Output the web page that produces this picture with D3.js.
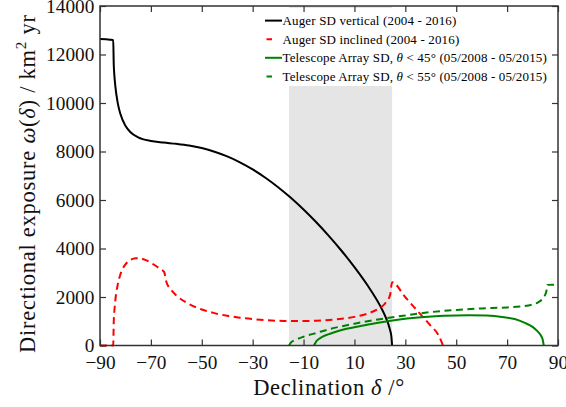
<!DOCTYPE html>
<html>
<head>
<meta charset="utf-8">
<script src="https://cdn.jsdelivr.net/npm/d3@7"></script>
<style>
  body { margin: 0; background: #fff; }
  svg { font-family: "Liberation Serif", serif; }
</style>
</head>
<body>
<script>
// Auger SD vertical (theta < 60)
const vertDec = [-90, -86, -84.8, -84.6, -84.4, -84, -83, -82, -80, -78, -75, -70, -65, -60, -55, -50, -45, -40, -35, -30, -25, -20, -15, -10, -5, 0, 5, 10, 15, 20, 22, 24, 24.5, 24.8];
const vertExp = [12640, 12609, 12588, 11601, 11212, 10716, 9987, 9556, 9064, 8795, 8583, 8433, 8369, 8317, 8248, 8141, 7992, 7798, 7555, 7261, 6919, 6528, 6091, 5608, 5081, 4511, 3897, 3233, 2503, 1656, 1232, 637, 388, 0];

// Auger SD inclined
const inclDec = [-90, -84.8, -84.6, -84.4, -84, -83, -82, -80, -78, -76, -74, -72, -70, -68, -66, -64.8, -64, -62, -60, -55, -50, -45, -40, -35, -30, -25, -20, -15, -10, -5, 0, 5, 10, 15, 20, 22, 24, 24.8, 30, 35, 40, 43, 44.8];
const inclExp = [0, 0, 971, 1352, 1835, 2529, 2927, 3345, 3527, 3600, 3590, 3520, 3410, 3278, 3131, 3036, 2651, 2292, 2066, 1709, 1486, 1334, 1225, 1145, 1087, 1047, 1020, 1007, 1007, 1021, 1050, 1100, 1181, 1312, 1552, 1731, 2078, 2611, 1989, 1400, 812, 433, 0];

// Telescope Array SD, theta < 45
const ta45Dec = [-5.9, -5, -4, -2.5, 0, 3, 7, 13.5, 20, 27, 35, 45, 55, 62, 68, 73, 77, 80, 82, 83.5, 84, 84.4];
const ta45Exp = [0, 170, 265, 370, 470, 580, 690, 826, 950, 1060, 1150, 1225, 1250, 1235, 1180, 1090, 930, 770, 580, 370, 240, 0];

// Telescope Array SD, theta < 55
const ta55Dec = [-15.7, -15, -13, -10, -5, 0, 10, 20, 30, 40, 50, 60, 70, 75, 80, 82, 84, 85, 85.5, 85.7, 88, 90];
const ta55Exp = [0, 119, 240, 363, 517, 670, 900, 1087, 1240, 1377, 1468, 1527, 1572, 1607, 1692, 1771, 1932, 2102, 2277, 2500, 2506, 2507];

const seriesNames = [
  "Auger SD vertical (2004 - 2016)",
  "Auger SD inclined (2004 - 2016)",
  "Telescope Array SD, θ < 45° (05/2008 - 05/2015)",
  "Telescope Array SD, θ < 55° (05/2008 - 05/2015)"
];
const seriesColors = ["#000000", "#ff0000", "#008000", "#008000"];
const seriesDash = [null, "7,4.5", null, "7,4.5"];

const xTicks = [-90, -70, -50, -30, -10, 10, 30, 50, 70, 90];
const yTicks = [0, 2000, 4000, 6000, 8000, 10000, 12000, 14000];
const bandRange = [-15.7, 24.8];

const w = 566;
const h = 407;

const x = d3.scaleLinear().domain([-90, 90]).range([100, 558]);
const y = d3.scaleLinear().domain([0, 14000]).range([345.5, 6]);

const svg = d3.select("body")
  .append("svg")
  .attr("width", w)
  .attr("height", h);

// shaded band
svg.append("rect")
  .attr("x", x(bandRange[0]))
  .attr("y", y(14000))
  .attr("width", x(bandRange[1]) - x(bandRange[0]))
  .attr("height", y(0) - y(14000))
  .attr("fill", "#e5e5e5");

const series = [
  d3.zip(vertDec, vertExp),
  d3.zip(inclDec, inclExp),
  d3.zip(ta45Dec, ta45Exp),
  d3.zip(ta55Dec, ta55Exp)
];

const line = d3.line()
  .x(d => x(d[0]))
  .y(d => y(d[1]))
  .curve(d3.curveMonotoneX);

svg.append("g")
  .selectAll("path")
  .data(series).enter()
  .append("path")
  .attr("d", line)
  .attr("fill", "none")
  .attr("stroke", (d, i) => seriesColors[i])
  .attr("stroke-width", 2)
  .attr("stroke-dasharray", (d, i) => seriesDash[i]);

//legend
const legend = svg.append("g").attr("class", "legend");

legend.append("rect")
  .attr("x", 261)
  .attr("y", 8)
  .attr("width", 294)
  .attr("height", 78)
  .attr("fill", "#fff");

const item = legend.selectAll("g.item")
  .data(seriesNames).enter()
  .append("g")
  .attr("class", "item")
  .attr("transform", (d, i) => `translate(265, ${20.6 + i * 18.6})`);

item.append("line")
  .attr("x1", 0)
  .attr("x2", 17)
  .attr("stroke", (d, i) => seriesColors[i])
  .attr("stroke-width", 2)
  .attr("stroke-dasharray", (d, i) => seriesDash[i] ? "0,1.5,5.5,20" : null);

item.append("text")
  .attr("x", 17.5)
  .attr("dy", "0.35em")
  .attr("font-size", 13)
  .attr("letter-spacing", 0.15)
  .each(function(d) {
    const parts = d.split("θ");
    const t = d3.select(this);
    parts.forEach((p, k) => {
      if (k > 0) t.append("tspan").attr("font-style", "italic").text("θ");
      t.append("tspan").text(p);
    });
  });

//axes
const tickColor = "#333";

const gx = svg.append("g")
  .attr("transform", `translate(0, ${y(0)})`)
  .call(d3.axisBottom(x).tickValues(xTicks).tickSizeInner(-6).tickSizeOuter(0).tickPadding(9.5));

const gy = svg.append("g")
  .attr("transform", `translate(${x(-90)}, 0)`)
  .call(d3.axisLeft(y).tickValues(yTicks).tickSizeInner(-6).tickSizeOuter(0).tickPadding(5.7).tickFormat(d3.format("d")));

const gt = svg.append("g")
  .attr("transform", `translate(0, ${y(14000)})`)
  .call(d3.axisTop(x).tickValues(xTicks).tickSizeInner(-6).tickSizeOuter(0).tickFormat(""));

const gr = svg.append("g")
  .attr("transform", `translate(${x(90)}, 0)`)
  .call(d3.axisRight(y).tickValues(yTicks).tickSizeInner(-6).tickSizeOuter(0).tickFormat(""));

[gx, gy, gt, gr].forEach(g => {
  g.select(".domain").remove();
  g.selectAll("line").attr("stroke", tickColor).attr("stroke-width", 1.2);
  g.selectAll("text")
    .attr("font-family", "Liberation Serif, serif")
    .attr("font-size", 19.3)
    .attr("fill", "#111");
});

svg.append("rect")
  .attr("x", x(-90))
  .attr("y", y(14000))
  .attr("width", x(90) - x(-90))
  .attr("height", y(0) - y(14000))
  .attr("fill", "none")
  .attr("stroke", tickColor)
  .attr("stroke-width", 1.5);

// axis titles
const xt = svg.append("text")
  .attr("x", (x(-90) + x(90)) / 2)
  .attr("y", 395)
  .attr("text-anchor", "middle")
  .attr("font-size", 22.5)
  .attr("letter-spacing", 0.6)
  .attr("fill", "#111");
xt.append("tspan").text("Declination ");
xt.append("tspan").attr("font-style", "italic").text("δ");
xt.append("tspan").text(" /°");

const yt = svg.append("text")
  .attr("transform", "translate(35, 353) rotate(-90)")
  .attr("text-anchor", "start")
  .attr("font-size", 22.5)
  .attr("letter-spacing", 0.75)
  .attr("fill", "#111");
yt.append("tspan").text("Directional exposure ");
yt.append("tspan").attr("font-style", "italic").text("ω");
yt.append("tspan").text("(");
yt.append("tspan").attr("font-style", "italic").text("δ");
yt.append("tspan").text(") / km");
yt.append("tspan").attr("font-size", 15).attr("dy", -9).text("2");
yt.append("tspan").attr("dy", 9).text(" yr");
</script>
</body>
</html>
